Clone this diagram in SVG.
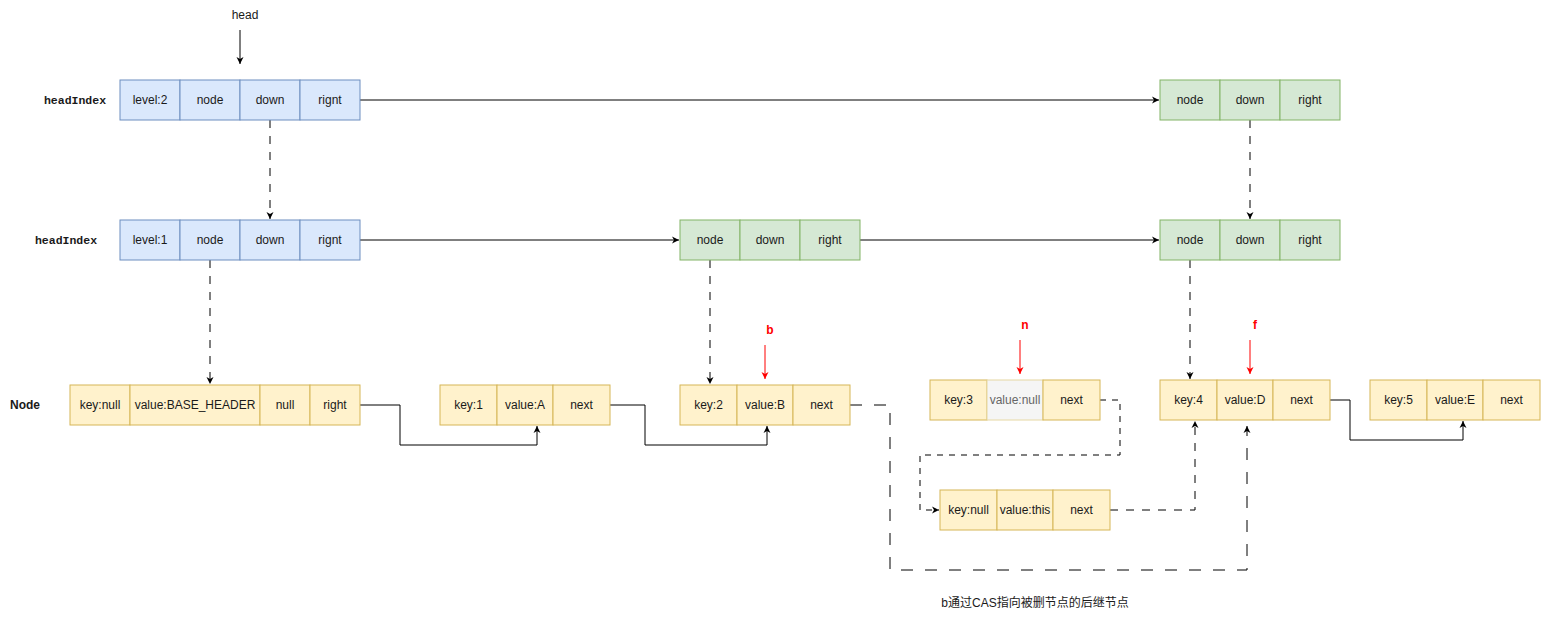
<svg xmlns="http://www.w3.org/2000/svg" width="1541" height="619" viewBox="0 0 1541 619">
<style>
text{font-family:"Liberation Sans",Arial,"Noto Sans CJK SC",sans-serif;font-size:12px;text-anchor:middle;dominant-baseline:central;fill:#1a1a1a}
.blue{fill:#dae8fc;stroke:#6c8ebf;stroke-width:1}
.green{fill:#d5e8d4;stroke:#82b366;stroke-width:1}
.yel{fill:#fff2cc;stroke:#d6b656;stroke-width:1}
.grey{fill:#f5f5f5;stroke:#e6d8a4;stroke-width:1}
.greyt{fill:#666666}
.lbl{font-family:"Liberation Mono","Courier New",monospace;font-weight:bold;font-size:11.5px}
.bold{font-weight:bold}
.red{fill:#ff0000;font-weight:bold}
.ln{fill:none;stroke:#000;stroke-width:1}
.dash{fill:none;stroke:#000;stroke-width:1;stroke-dasharray:8 8}
.dashL{fill:none;stroke:#000;stroke-width:1;stroke-dasharray:12 12}
.dashS{fill:none;stroke:#000;stroke-width:1;stroke-dasharray:6 6}
.redln{fill:none;stroke:#ff0000;stroke-width:1}
</style>
<defs>
<marker id="ah" markerWidth="8" markerHeight="8" refX="7" refY="4" orient="auto" markerUnits="userSpaceOnUse">
<path d="M0,0.5 L7,4 L0,7.5 L2,4 Z" fill="#000"/>
</marker>
<marker id="ahr" markerWidth="8" markerHeight="8" refX="7" refY="4" orient="auto" markerUnits="userSpaceOnUse">
<path d="M0,0.5 L7,4 L0,7.5 L2,4 Z" fill="#ff0000"/>
</marker>
</defs>
<rect width="1541" height="619" fill="#ffffff"/>

<g id="labels">
<text x="245" y="15">head</text>
<text class="lbl" x="75" y="100">headIndex</text>
<text class="lbl" x="66" y="240">headIndex</text>
<text class="bold" x="25" y="405">Node</text>
<text class="red" x="770" y="330">b</text>
<text class="red" x="1025" y="325">n</text>
<text class="red" x="1255" y="325">f</text>
<text x="1035" y="603">b通过CAS指向被删节点的后继节点</text>
</g>

<g id="connectors">
<line class="ln" x1="240" y1="30" x2="240" y2="64" marker-end="url(#ah)"/>
<line class="ln" x1="360" y1="100" x2="1159" y2="100" marker-end="url(#ah)"/>
<line class="dash" x1="270" y1="120" x2="270" y2="219" marker-end="url(#ah)"/>
<line class="dash" x1="1250" y1="120" x2="1250" y2="219" marker-end="url(#ah)"/>
<line class="ln" x1="360" y1="240" x2="679" y2="240" marker-end="url(#ah)"/>
<line class="ln" x1="860" y1="240" x2="1159" y2="240" marker-end="url(#ah)"/>
<line class="dash" x1="210" y1="260" x2="210" y2="384" marker-end="url(#ah)"/>
<line class="dash" x1="710" y1="260" x2="710" y2="384" marker-end="url(#ah)"/>
<line class="dash" x1="1190" y1="260" x2="1190" y2="379" marker-end="url(#ah)"/>
<polyline class="ln" points="360,405 400,405 400,445 537,445 537,426" marker-end="url(#ah)"/>
<polyline class="ln" points="610,405 645,405 645,445 767,445 767,426" marker-end="url(#ah)"/>
<polyline class="ln" points="1330,400 1350,400 1350,440 1463,440 1463,421" marker-end="url(#ah)"/>
<polyline class="dashL" points="850,405 890,405 890,570 1247,570 1247,426" marker-end="url(#ah)"/>
<polyline class="dashS" points="1100,400 1120,400 1120,455 920,455 920,510 939,510" marker-end="url(#ah)"/>
<polyline class="dash" points="1110,510 1195,510 1195,421" marker-end="url(#ah)"/>
<line class="redln" x1="765" y1="345" x2="765" y2="379" marker-end="url(#ahr)"/>
<line class="redln" x1="1020" y1="340" x2="1020" y2="374" marker-end="url(#ahr)"/>
<line class="redln" x1="1250" y1="340" x2="1250" y2="374" marker-end="url(#ahr)"/>
</g>

<g id="headIndex2">
<rect class="blue" x="120" y="80" width="60" height="40"/>
<rect class="blue" x="180" y="80" width="60" height="40"/>
<rect class="blue" x="240" y="80" width="60" height="40"/>
<rect class="blue" x="300" y="80" width="60" height="40"/>
<text x="150" y="100">level:2</text>
<text x="210" y="100">node</text>
<text x="270" y="100">down</text>
<text x="330" y="100">rignt</text>
</g>

<g id="headIndex1">
<rect class="blue" x="120" y="220" width="60" height="40"/>
<rect class="blue" x="180" y="220" width="60" height="40"/>
<rect class="blue" x="240" y="220" width="60" height="40"/>
<rect class="blue" x="300" y="220" width="60" height="40"/>
<text x="150" y="240">level:1</text>
<text x="210" y="240">node</text>
<text x="270" y="240">down</text>
<text x="330" y="240">rignt</text>
</g>

<g id="index4top">
<rect class="green" x="1160" y="80" width="60" height="40"/>
<rect class="green" x="1220" y="80" width="60" height="40"/>
<rect class="green" x="1280" y="80" width="60" height="40"/>
<text x="1190" y="100">node</text>
<text x="1250" y="100">down</text>
<text x="1310" y="100">right</text>
</g>

<g id="index2">
<rect class="green" x="680" y="220" width="60" height="40"/>
<rect class="green" x="740" y="220" width="60" height="40"/>
<rect class="green" x="800" y="220" width="60" height="40"/>
<text x="710" y="240">node</text>
<text x="770" y="240">down</text>
<text x="830" y="240">right</text>
</g>

<g id="index4">
<rect class="green" x="1160" y="220" width="60" height="40"/>
<rect class="green" x="1220" y="220" width="60" height="40"/>
<rect class="green" x="1280" y="220" width="60" height="40"/>
<text x="1190" y="240">node</text>
<text x="1250" y="240">down</text>
<text x="1310" y="240">right</text>
</g>

<g id="nodeHeader">
<rect class="yel" x="70" y="385" width="60" height="40"/>
<rect class="yel" x="130" y="385" width="130" height="40"/>
<rect class="yel" x="260" y="385" width="50" height="40"/>
<rect class="yel" x="310" y="385" width="50" height="40"/>
<text x="100" y="405">key:null</text>
<text x="195" y="405">value:BASE_HEADER</text>
<text x="285" y="405">null</text>
<text x="335" y="405">right</text>
</g>

<g id="node1">
<rect class="yel" x="440" y="385" width="57" height="40"/>
<rect class="yel" x="497" y="385" width="56" height="40"/>
<rect class="yel" x="553" y="385" width="57" height="40"/>
<text x="468.5" y="405">key:1</text>
<text x="525" y="405">value:A</text>
<text x="581.5" y="405">next</text>
</g>

<g id="node2">
<rect class="yel" x="680" y="385" width="57" height="40"/>
<rect class="yel" x="737" y="385" width="56" height="40"/>
<rect class="yel" x="793" y="385" width="57" height="40"/>
<text x="708.5" y="405">key:2</text>
<text x="765" y="405">value:B</text>
<text x="821.5" y="405">next</text>
</g>

<g id="node3">
<rect class="yel" x="930" y="380" width="57" height="40"/>
<rect class="grey" x="987" y="380" width="56" height="40"/>
<rect class="yel" x="1043" y="380" width="57" height="40"/>
<text x="958.5" y="400">key:3</text>
<text class="greyt" x="1015" y="400">value:null</text>
<text x="1071.5" y="400">next</text>
</g>

<g id="markerNode">
<rect class="yel" x="940" y="490" width="57" height="40"/>
<rect class="yel" x="997" y="490" width="56" height="40"/>
<rect class="yel" x="1053" y="490" width="57" height="40"/>
<text x="968.5" y="510">key:null</text>
<text x="1025" y="510">value:this</text>
<text x="1081.5" y="510">next</text>
</g>

<g id="node4">
<rect class="yel" x="1160" y="380" width="57" height="40"/>
<rect class="yel" x="1217" y="380" width="56" height="40"/>
<rect class="yel" x="1273" y="380" width="57" height="40"/>
<text x="1188.5" y="400">key:4</text>
<text x="1245" y="400">value:D</text>
<text x="1301.5" y="400">next</text>
</g>

<g id="node5">
<rect class="yel" x="1370" y="380" width="57" height="40"/>
<rect class="yel" x="1427" y="380" width="56" height="40"/>
<rect class="yel" x="1483" y="380" width="57" height="40"/>
<text x="1398.5" y="400">key:5</text>
<text x="1455" y="400">value:E</text>
<text x="1511.5" y="400">next</text>
</g>
</svg>
